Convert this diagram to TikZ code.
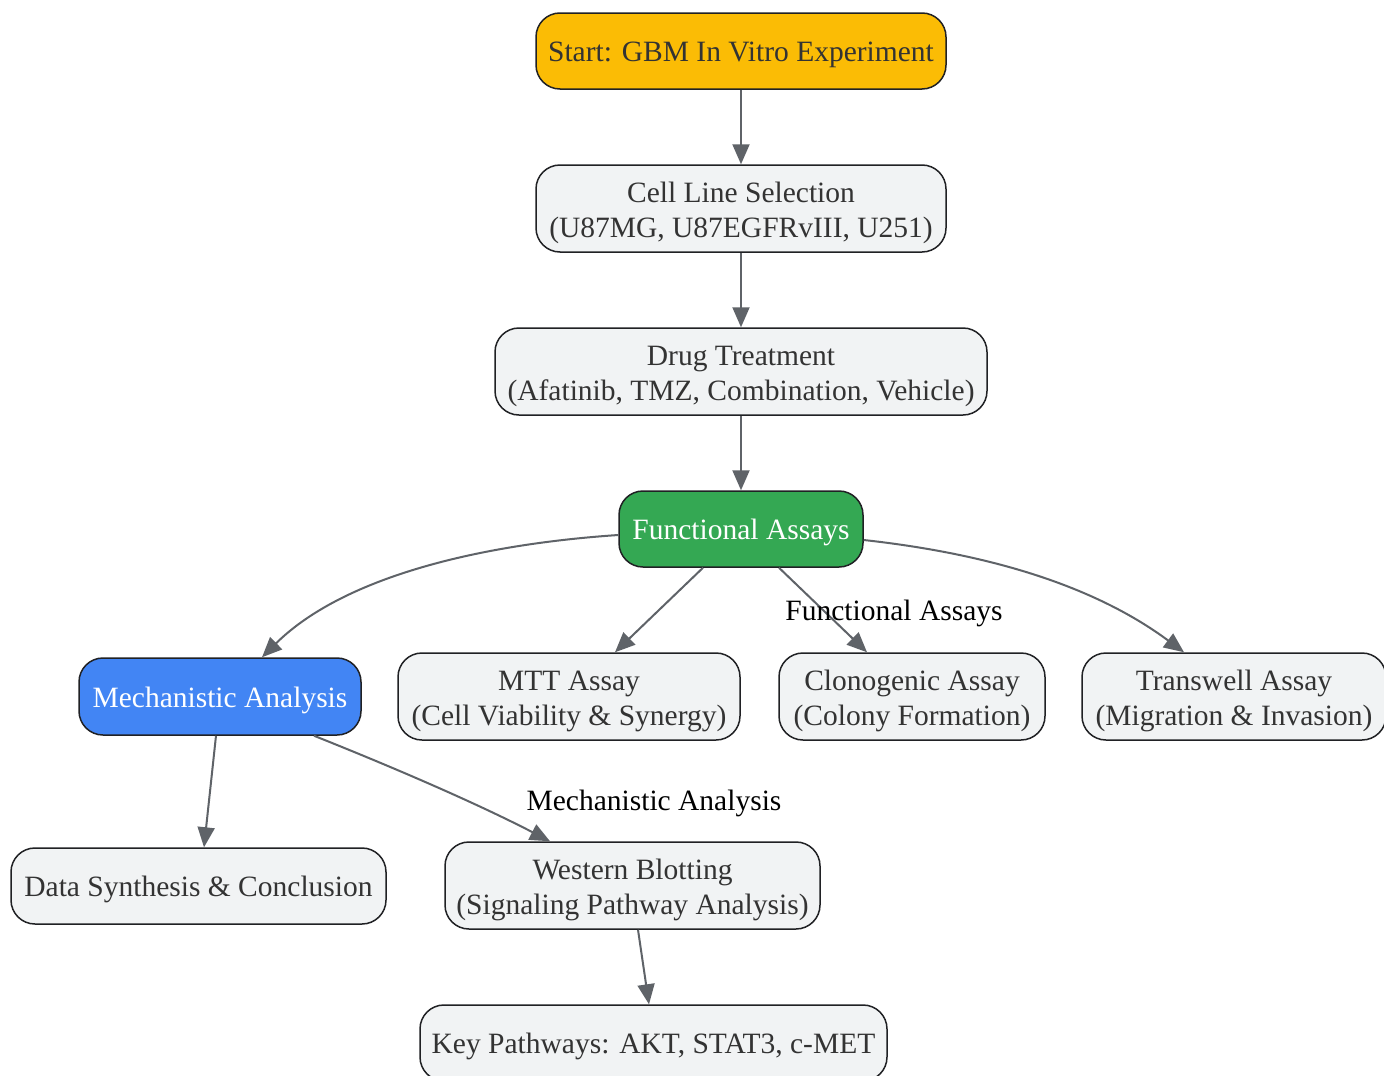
\documentclass[tikz,border=0pt]{standalone}
\usepackage{fontspec}
\setmainfont{Liberation Serif}
\usetikzlibrary{arrows.meta}
\definecolor{gfill}{HTML}{F1F3F4}
\definecolor{bord}{HTML}{202124}
\definecolor{edgec}{HTML}{5F6368}
\definecolor{yel}{HTML}{FBBC05}
\definecolor{grn}{HTML}{34A853}
\definecolor{blu}{HTML}{4285F4}
\definecolor{txt}{HTML}{333333}
\tikzset{
  boxbase/.style={draw=bord, line width=1.5pt, rounded corners=24pt, fill=gfill, text=txt,
    inner sep=0pt, align=center, font=\fontsize{29.5}{35}\selectfont},
  box/.style={boxbase,
    execute at begin node={\rule{0pt}{30pt}},
    execute at end node={\rule[-8.5pt]{0pt}{8.5pt}}},
  boxtwo/.style={boxbase, text height=57pt, text depth=0pt},
  edge/.style={draw=edgec, line width=2pt, -{Triangle[length=20pt,width=17pt]}},
  lab/.style={font=\fontsize{29.5}{35}\selectfont, text=black, inner sep=0pt}
}
\begin{document}
\begin{tikzpicture}[x=1pt,y=-1pt]
\useasboundingbox[fill=white] (0,0) rectangle (1384,1076);
\node[box, fill=yel, minimum width=410pt, minimum height=76pt] (start) at (741,51) {Start: GBM In Vitro Experiment};
\node[boxtwo, minimum width=410pt, minimum height=87pt] (cell) at (741,208.5) {Cell Line Selection\\(U87MG, U87EGFRvIII, U251)};
\node[boxtwo, minimum width=492pt, minimum height=87pt] (drug) at (741,371.5) {Drug Treatment\\(Afatinib, TMZ, Combination, Vehicle)};
\node[box, fill=grn, text=white, minimum width=244pt, minimum height=76pt] (func) at (741,529) {Functional Assays};
\node[box, fill=blu, text=white, minimum width=282pt, minimum height=77pt] (mech) at (220,696.5) {Mechanistic Analysis};
\node[boxtwo, minimum width=342pt, minimum height=87pt] (mtt) at (569,696.5) {MTT Assay\\(Cell Viability \& Synergy)};
\node[boxtwo, minimum width=266pt, minimum height=87pt] (clono) at (912,696.5) {Clonogenic Assay\\(Colony Formation)};
\node[boxtwo, minimum width=304pt, minimum height=87pt] (trans) at (1234,696.5) {Transwell Assay\\(Migration \& Invasion)};
\node[box, minimum width=375pt, minimum height=76pt] (data) at (198.5,886) {Data Synthesis \& Conclusion};
\node[boxtwo, minimum width=375pt, minimum height=87pt] (west) at (632.5,885.5) {Western Blotting\\(Signaling Pathway Analysis)};
\node[box, minimum width=467pt, minimum height=76pt] (key) at (653.5,1043) {Key Pathways: AKT, STAT3, c-MET};

\draw[edge] (start.south) -- (cell.north);
\draw[edge] (cell.south) -- (drug.north);
\draw[edge] (drug.south) -- (func.north);
\draw[edge] ([yshift=-6pt]func.west) .. controls (470,545) and (340,580) .. ([xshift=42pt]mech.north);
\draw[edge] ([xshift=-38pt]func.south) -- ([xshift=46pt]mtt.north);
\draw[edge] ([xshift=38pt]func.south) -- ([xshift=-45pt]clono.north);
\draw[edge] ([yshift=-11pt]func.east) .. controls (1000,555) and (1100,590) .. ([xshift=-50pt]trans.north);
\draw[edge] ([xshift=-4pt]mech.south) -- ([xshift=5.5pt]data.north);
\draw[edge] ([xshift=94pt]mech.south) .. controls (400,770) and (480,805) .. ([xshift=-82.5pt]west.north);
\draw[edge] ([xshift=5.5pt]west.south) -- ([xshift=-4.5pt]key.north);

\node[lab] (lf) at (894,613) {Functional Assays};
\node[lab] (lm) at (654,803) {Mechanistic Analysis};
\end{tikzpicture}
\end{document}
